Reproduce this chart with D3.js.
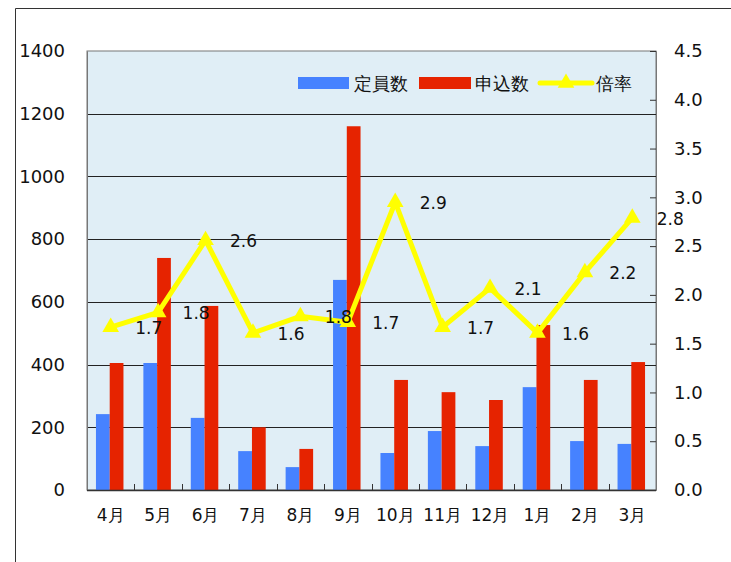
<!DOCTYPE html>
<html lang="ja">
<head>
<meta charset="utf-8">
<title>定員数・申込数・倍率</title>
<script src="https://d3js.org/d3.v7.min.js"></script>
<style>
  body { margin: 0; background: #fff; }
  text { font-family: "DejaVu Sans", Verdana, sans-serif; fill: #111; }
</style>
</head>
<body>
<script>
"use strict";

// data
const months = ["4月", "5月", "6月", "7月", "8月", "9月", "10月", "11月", "12月", "1月", "2月", "3月"];
const capacity = [242, 405, 230, 124, 73, 670, 118, 188, 140, 328, 156, 147];   // 定員数
const applied  = [405, 740, 587, 200, 131, 1160, 351, 312, 287, 526, 351, 408]; // 申込数
const ratio    = [1.67, 1.82, 2.56, 1.61, 1.78, 1.72, 2.95, 1.67, 2.07, 1.61, 2.23, 2.79]; // 倍率
const ratioLabels = ["1.7", "1.8", "2.6", "1.6", "1.8", "1.7", "2.9", "1.7", "2.1", "1.6", "2.2", "2.8"];
const leftTicks = [0, 200, 400, 600, 800, 1000, 1200, 1400];
const rightTicks = [0, 0.5, 1, 1.5, 2, 2.5, 3, 3.5, 4, 4.5];

const W = 731, H = 562;
const plot = { left: 87, right: 656, top: 51, bottom: 490 };
const BLUE = "#4682ff", RED = "#e62300", YELLOW = "#ffff00";

const svg = d3.select("body").append("svg")
    .attr("width", W).attr("height", H);

// outer frame (top and left edges visible)
svg.append("path")
    .attr("d", `M15.5,${H} V8.5 H${W}`)
    .attr("fill", "none").attr("stroke", "#333").attr("stroke-width", 1);

const x = d3.scaleBand().domain(months).range([plot.left, plot.right]);
const yL = d3.scaleLinear().domain([0, 1400]).range([plot.bottom, plot.top]);
const yR = d3.scaleLinear().domain([0, 4.5]).range([plot.bottom, plot.top]);

// plot background
svg.append("rect")
    .attr("x", plot.left).attr("y", plot.top)
    .attr("width", plot.right - plot.left).attr("height", plot.bottom - plot.top)
    .attr("fill", "#e0eef6").attr("stroke", "#777");

// gridlines
svg.append("g").selectAll("line")
    .data(leftTicks.slice(1, -1))
    .join("line")
    .attr("x1", plot.left).attr("x2", plot.right)
    .attr("y1", d => Math.round(yL(d)) + 0.5).attr("y2", d => Math.round(yL(d)) + 0.5)
    .attr("stroke", "#222").attr("stroke-width", 1);

// left axis labels
const leftAxis = d3.axisLeft(yL).tickValues(leftTicks).tickSize(0).tickPadding(22)
    .tickFormat(d3.format("d"));
const gL = svg.append("g").attr("transform", `translate(${plot.left},0)`).call(leftAxis);
gL.select(".domain").attr("stroke", "#777");
gL.selectAll("text").style("font-size", "18px").attr("fill", "#111");

// right axis
const rightAxis = d3.axisRight(yR).tickValues(rightTicks).tickSize(-6).tickPadding(18)
    .tickFormat(d3.format(".1f"));
const gR = svg.append("g").attr("transform", `translate(${plot.right},0)`).call(rightAxis);
gR.select(".domain").attr("stroke", "#777");
gR.selectAll("line").attr("stroke", "#333");
gR.selectAll("text").style("font-size", "18px").attr("fill", "#111");

// bottom axis
const bottomAxis = d3.axisBottom(x).tickSize(0).tickPadding(19);
const gB = svg.append("g").attr("transform", `translate(0,${plot.bottom})`).call(bottomAxis);
gB.select(".domain").remove();
gB.selectAll("text").style("font-size", "17px").attr("fill", "#111");

// bars
const bw = x.bandwidth() * 0.29;
const cx = m => x(m) + x.bandwidth() / 2 - 1;

svg.append("g").selectAll("rect")
    .data(capacity)
    .join("rect")
    .attr("x", (d, i) => cx(months[i]) - bw)
    .attr("y", d => yL(d))
    .attr("width", bw)
    .attr("height", d => plot.bottom - yL(d))
    .attr("fill", BLUE);

svg.append("g").selectAll("rect")
    .data(applied)
    .join("rect")
    .attr("x", (d, i) => cx(months[i]))
    .attr("y", d => yL(d))
    .attr("width", bw)
    .attr("height", d => plot.bottom - yL(d))
    .attr("fill", RED);

// x axis line and category separator ticks
svg.append("line")
    .attr("x1", plot.left).attr("x2", plot.right)
    .attr("y1", plot.bottom + 0.5).attr("y2", plot.bottom + 0.5)
    .attr("stroke", "#333").attr("stroke-width", 1.5);
svg.append("g").selectAll("line")
    .data(months.slice(1))
    .join("line")
    .attr("x1", d => Math.round(x(d)) + 0.5).attr("x2", d => Math.round(x(d)) + 0.5)
    .attr("y1", plot.bottom).attr("y2", plot.bottom - 6)
    .attr("stroke", "#333");

// ratio line
const line = d3.line()
    .x((d, i) => x(months[i]) + x.bandwidth() / 2)
    .y(d => yR(d));

svg.append("path")
    .datum(ratio)
    .attr("d", line)
    .attr("fill", "none")
    .attr("stroke", YELLOW)
    .attr("stroke-width", 5)
    .attr("stroke-linejoin", "miter");

const tri = d3.symbol().type(d3.symbolTriangle).size(120);
svg.append("g").selectAll("path")
    .data(ratio)
    .join("path")
    .attr("d", tri)
    .attr("transform", (d, i) => `translate(${x(months[i]) + x.bandwidth() / 2},${yR(d)})`)
    .attr("fill", YELLOW);

// ratio labels
svg.append("g").selectAll("text")
    .data(ratio)
    .join("text")
    .attr("x", (d, i) => x(months[i]) + x.bandwidth() / 2 + 38)
    .attr("y", d => yR(d) + 7)
    .attr("text-anchor", "middle")
    .style("font-size", "17px")
    .text((d, i) => ratioLabels[i]);

// legend
const legend = svg.append("g");
legend.append("rect").attr("x", 298).attr("y", 77).attr("width", 51).attr("height", 12).attr("fill", BLUE);
legend.append("text").attr("x", 354).attr("y", 90).style("font-size", "18px").text("定員数");
legend.append("rect").attr("x", 419).attr("y", 77).attr("width", 52).attr("height", 12).attr("fill", RED);
legend.append("text").attr("x", 475).attr("y", 90).style("font-size", "18px").text("申込数");
legend.append("line").attr("x1", 540).attr("x2", 592).attr("y1", 83).attr("y2", 83)
    .attr("stroke", YELLOW).attr("stroke-width", 5).attr("stroke-linecap", "round");
legend.append("path").attr("d", tri).attr("transform", "translate(566,83)").attr("fill", YELLOW);
legend.append("text").attr("x", 596).attr("y", 90).style("font-size", "18px").text("倍率");
</script>
</body>
</html>
